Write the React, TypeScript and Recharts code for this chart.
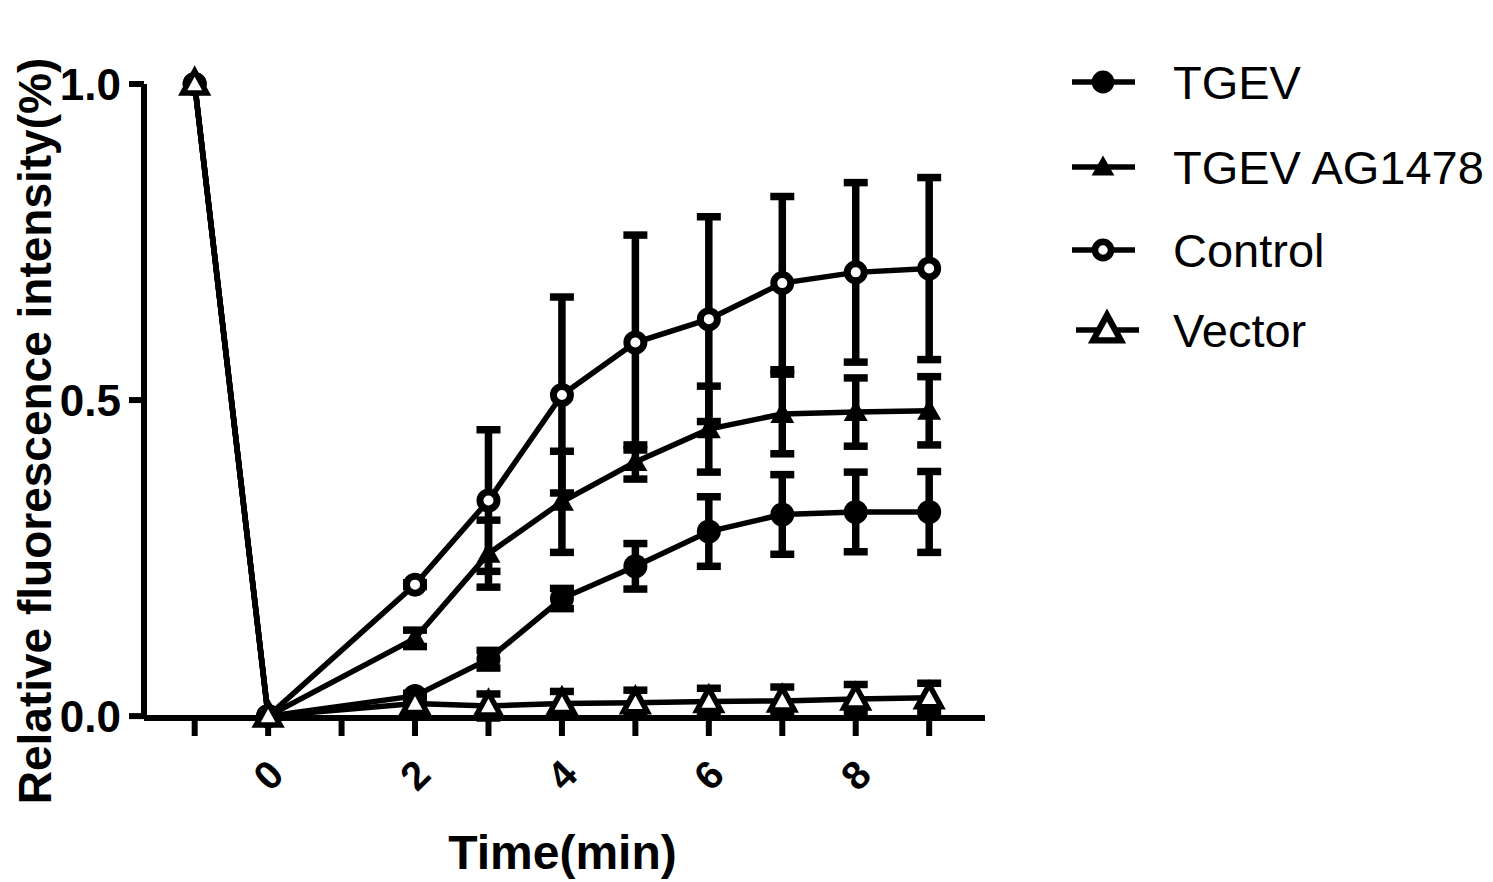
import { LineChart, Line, XAxis, YAxis, ErrorBar, Legend } from "recharts";

// time points (min); x = 1 has no measurement
const times = [-1, 0, 2, 3, 4, 5, 6, 7, 8, 9];
const tgev = [1, 0, 0.032, 0.09, 0.186, 0.237, 0.292, 0.319, 0.323, 0.323];
const tgevSd = [0, 0, 0.004, 0.014, 0.016, 0.036, 0.055, 0.063, 0.063, 0.064];
const ag1478 = [1, 0, 0.123, 0.257, 0.339, 0.402, 0.454, 0.478, 0.481, 0.483];
const ag1478Sd = [0, 0, 0.013, 0.053, 0.08, 0.027, 0.068, 0.063, 0.054, 0.054];
const control = [1, 0, 0.208, 0.341, 0.508, 0.591, 0.628, 0.685, 0.702, 0.708];
const controlSd = [0, 0, 0.003, 0.112, 0.155, 0.17, 0.162, 0.137, 0.142, 0.144];
const vector = [1, 0, 0.02, 0.016, 0.02, 0.021, 0.023, 0.024, 0.027, 0.029];
const vectorSd = [0, 0, 0.012, 0.019, 0.019, 0.02, 0.021, 0.022, 0.023, 0.023];

const xTicks = [-1, 0, 1, 2, 3, 4, 5, 6, 7, 8, 9];
const xLabels = [0, 2, 4, 6, 8];
const yTicks = [0, 0.5, 1];

const data = times.map((t, i) => ({
  t,
  tgev: tgev[i],
  tgevSd: tgevSd[i],
  ag: ag1478[i],
  agSd: ag1478Sd[i],
  ctrl: control[i],
  ctrlSd: controlSd[i],
  vec: vector[i],
  vecSd: vectorSd[i],
}));

const FONT = "'Liberation Sans', Arial, sans-serif";

type Kind = "filledCircle" | "filledTriangle" | "openCircle" | "openTriangle";

function Marker({ kind, cx, cy, scale = 1 }: { kind: Kind; cx: number; cy: number; scale?: number }) {
  const s = scale;
  if (kind === "filledCircle") return <circle cx={cx} cy={cy} r={12 * s} fill="#000" />;
  if (kind === "openCircle")
    return <circle cx={cx} cy={cy} r={8.5 * s} fill="#fff" stroke="#000" strokeWidth={7 * s} />;
  if (kind === "filledTriangle") {
    const pts = `${cx},${cy - 12 * s} ${cx + 12 * s},${cy + 9 * s} ${cx - 12 * s},${cy + 9 * s}`;
    return <polygon points={pts} fill="#000" />;
  }
  const pts = `${cx},${cy - 13 * s} ${cx + 12 * s},${cy + 9 * s} ${cx - 12 * s},${cy + 9 * s}`;
  return <polygon points={pts} fill="#fff" stroke="#000" strokeWidth={5.5 * s} strokeLinejoin="miter" />;
}

const makeDot = (kind: Kind) => (props: any) => {
  const { cx, cy, index } = props;
  if (cx == null || cy == null) return <g key={`d-${kind}-${index}`} />;
  return <Marker key={`d-${kind}-${index}`} kind={kind} cx={cx} cy={cy} />;
};

const legendItems: { name: string; kind: Kind }[] = [
  { name: "TGEV", kind: "filledCircle" },
  { name: "TGEV AG1478", kind: "filledTriangle" },
  { name: "Control", kind: "openCircle" },
  { name: "Vector", kind: "openTriangle" },
];
const legendRows = [42, 127, 210, 290];

function LegendBox() {
  return (
    <svg width={433} height={330}>
      {legendItems.map((it, i) => {
        const y = legendRows[i];
        const shift = it.kind === "openTriangle" ? 4 : 0;
        return (
          <g key={it.name}>
            <line x1={12 + shift} x2={75 + shift} y1={y} y2={y} stroke="#000" strokeWidth={5.5} />
            <Marker kind={it.kind} cx={43 + shift} cy={y} scale={it.kind === "openTriangle" ? 1.15 : 0.95} />
            <text x={113} y={y} dominantBaseline="central" fontSize={47} fontFamily={FONT} fill="#000">
              {it.name}
            </text>
          </g>
        );
      })}
    </svg>
  );
}

function XTick(props: any) {
  const { x, y, payload } = props;
  if (!xLabels.includes(payload.value)) return <g />;
  const cy = y + 37;
  return (
    <text
      x={x}
      y={cy}
      textAnchor="middle"
      dominantBaseline="central"
      fontSize={40}
      fontWeight="bold"
      fontFamily={FONT}
      fill="#000"
      transform={`rotate(-45, ${x}, ${cy})`}
    >
      {payload.value}
    </text>
  );
}

export default function App() {
  const axisStroke = { stroke: "#000", strokeWidth: 6 };
  const lineProps = { type: "linear" as const, stroke: "#000", strokeWidth: 5.5, activeDot: false, isAnimationActive: false };
  const barProps = { direction: "y" as const, width: 12, strokeWidth: 7.5, stroke: "#000", isAnimationActive: false };
  return (
    <div style={{ position: "absolute", left: 0, top: 0, width: 1493, height: 882, background: "#fff" }}>
      <LineChart width={1493} height={882} data={data} margin={{ top: 84, right: 508, bottom: 104, left: 0 }}>
        <XAxis
          dataKey="t"
          type="number"
          domain={[-1.69, 9.76]}
          ticks={xTicks}
          interval={0}
          height={60}
          tickSize={18}
          tickMargin={2}
          axisLine={axisStroke}
          tickLine={axisStroke}
          tick={<XTick />}
          label={{
            content: (p: any) => {
              const vb = p.viewBox || { x: 144, y: 718, width: 841 };
              return (
                <text
                  x={vb.x + vb.width / 2 - 2}
                  y={vb.y + 134}
                  textAnchor="middle"
                  dominantBaseline="central"
                  fontSize={48}
                  fontWeight="bold"
                  fontFamily={FONT}
                  fill="#000"
                >
                  Time(min)
                </text>
              );
            },
          }}
        />
        <YAxis
          type="number"
          domain={[0, 1]}
          ticks={yTicks}
          interval={0}
          width={144}
          tickSize={15}
          tickMargin={8}
          axisLine={axisStroke}
          tickLine={axisStroke}
          tickFormatter={(v: number) => v.toFixed(1)}
          tick={{ fill: "#000", fontSize: 44, fontWeight: "bold", fontFamily: FONT }}
          label={{
            content: (p: any) => {
              const vb = p.viewBox || { x: 0, y: 84, width: 144, height: 634 };
              const cx = 35;
              const cy = vb.y + vb.height / 2 + 30;
              return (
                <text
                  x={cx}
                  y={cy}
                  textAnchor="middle"
                  dominantBaseline="central"
                  fontSize={46}
                  fontWeight="bold"
                  fontFamily={FONT}
                  fill="#000"
                  transform={`rotate(-90, ${cx}, ${cy})`}
                >
                  Relative fluorescence intensity(%)
                </text>
              );
            },
          }}
        />
        <Legend
          layout="vertical"
          align="center"
          verticalAlign="middle"
          wrapperStyle={{ position: "absolute", left: 1060, top: 40, width: 433 }}
          content={() => <LegendBox />}
        />
        <Line dataKey="tgev" {...lineProps} dot={makeDot("filledCircle")}>
          <ErrorBar dataKey="tgevSd" {...barProps} />
        </Line>
        <Line dataKey="ag" {...lineProps} dot={makeDot("filledTriangle")}>
          <ErrorBar dataKey="agSd" {...barProps} />
        </Line>
        <Line dataKey="ctrl" {...lineProps} dot={makeDot("openCircle")}>
          <ErrorBar dataKey="ctrlSd" {...barProps} />
        </Line>
        <Line dataKey="vec" {...lineProps} dot={makeDot("openTriangle")}>
          <ErrorBar dataKey="vecSd" {...barProps} />
        </Line>
      </LineChart>
    </div>
  );
}
